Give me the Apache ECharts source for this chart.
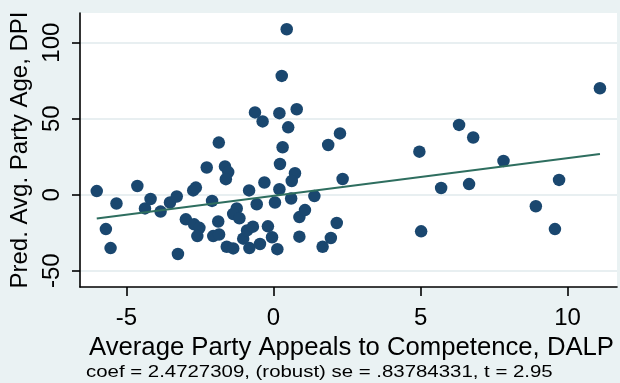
<!DOCTYPE html>
<html>
<head>
<meta charset="utf-8">
<script src="https://cdn.jsdelivr.net/npm/echarts@6/dist/echarts.min.js"></script>
<style>
  html, body { margin: 0; padding: 0; background: #eaf2f3; }
  #chart { width: 620px; height: 383px; }
</style>
</head>
<body>
<div id="chart"></div>
<script>
// Average party appeals to competence (DALP) per country, x values
const competence = [
  -6.01, -5.70, -5.54, -5.34, -4.63, -4.37, -4.18, -3.84, -3.52, -3.29,
  -3.25, -2.98, -2.73, -2.64, -2.70, -2.52, -2.59, -2.27, -2.09, -1.88,
  -2.05, -1.85, -1.86, -1.65, -1.54, -1.62, -1.59, -1.37, -1.25, -1.37,
  -1.16, -1.03, -0.82, -0.90, -0.70, -0.46, -0.83, -0.57, -0.31, -0.19,
  -0.05, 0.13, 0.05, 0.20, 0.22, 0.31, -0.63, -0.37, 0.20, 0.79,
  0.50, 0.28, 0.45, 0.73, 0.62, 0.60, 0.88, 1.07, 0.88, 1.39,
  1.67, 1.95, 2.15, 1.86, 2.26, 2.35, 4.96, 5.02, 5.70, 6.31,
  6.79, 6.65, 7.82, 8.92, 9.57, 9.71, 11.10
];
// Predicted average party age (DPI), y values, same order
const partyAge = [
  2.4, -22.6, -35.1, -5.8, 5.7, -9.0, -2.8, -11.1, -5.1, -1.2,
  -39.0, -16.2, 2.8, 4.7, -19.5, -21.8, -27.2, 17.9, -4.1, -17.6,
  -27.2, -26.2, 34.3, 18.6, 14.9, 10.2, -34.2, -35.3, -9.0, -12.7,
  -15.5, -28.9, -35.1, -23.5, -21.0, -32.4, 2.8, -6.3, 8.0, -20.8,
  -28.0, -35.8, -5.1, 3.6, 20.2, 31.2, 54.1, 48.2, 53.6, 56.2,
  44.3, 78.1, 108.8, 14.1, 9.0, -2.5, -14.7, -10.1, -27.6, -0.9,
  -34.2, -28.5, -18.6, 32.7, 40.3, 10.3, 28.3, -24.1, 4.4, 45.9,
  37.6, 7.0, 22.2, -7.6, -22.6, 9.7, 70.0
];
// Fitted line end points
const fitX = [-6.01, 11.10];
const fitY = [-15.6, 26.7];

const xTicks = [-5, 0, 5, 10];
const yTicks = [-50, 0, 50, 100];

const xTitle = 'Average Party Appeals to Competence, DALP';
const yTitle = 'Pred. Avg. Party Age, DPI';
const noteText = 'coef = 2.4727309, (robust) se = .83784331, t = 2.95';

const FONT = '"Liberation Sans", Arial, sans-serif';
const INK = '#000000';

const points = competence.map((x, i) => [x, partyAge[i]]);
const fitLine = fitX.map((x, i) => [x, fitY[i]]);

const chart = echarts.init(document.getElementById('chart'), null, { renderer: 'canvas' });
chart.setOption({
  animation: false,
  backgroundColor: '#eaf2f3',
  grid: {
    left: 80, right: 3, top: 13, bottom: 96,
    show: true, backgroundColor: '#ffffff', borderWidth: 0
  },
  xAxis: {
    type: 'value',
    min: -6.58, max: 11.68,
    axisLine: { show: true, onZero: false, lineStyle: { color: INK, width: 1.6 } },
    axisTick: { show: true, length: 9, customValues: xTicks, lineStyle: { color: INK, width: 1.6 } },
    axisLabel: { customValues: xTicks, fontSize: 24, fontFamily: FONT, color: INK, margin: 19 },
    splitLine: { show: false },
    name: xTitle,
    nameLocation: 'middle',
    nameGap: 40,
    nameTextStyle: { fontSize: 25.7, fontFamily: FONT, color: INK, padding: [0, 0, 0, 6] }
  },
  yAxis: {
    type: 'value',
    min: -60.7, max: 119.5,
    axisLine: { show: true, onZero: false, lineStyle: { color: INK, width: 1.6 } },
    axisTick: { show: true, length: 8, customValues: yTicks, lineStyle: { color: INK, width: 1.6 } },
    axisLabel: { customValues: yTicks, rotate: 90, fontSize: 24, fontFamily: FONT, color: INK, margin: 16 },
    splitLine: { show: true, lineStyle: { color: '#e8eff1', width: 2 } },
    name: yTitle,
    nameLocation: 'middle',
    nameRotate: 90,
    nameGap: 46,
    nameTextStyle: { fontSize: 24, fontFamily: FONT, color: INK }
  },
  graphic: [{
    type: 'text',
    x: 86,
    y: 372.5,
    scaleX: 1.2,
    style: {
      text: noteText, fontSize: 17, fontFamily: FONT, fill: INK,
      align: 'left', verticalAlign: 'middle'
    }
  }],
  series: [
    {
      type: 'scatter',
      data: points,
      symbol: 'circle',
      symbolSize: 12.5,
      itemStyle: { color: '#1a476f', opacity: 1 },
      z: 2
    },
    {
      type: 'line',
      data: fitLine,
      showSymbol: false,
      lineStyle: { color: '#2e6e5f', width: 2 },
      z: 3
    }
  ]
});
</script>
</body>
</html>
